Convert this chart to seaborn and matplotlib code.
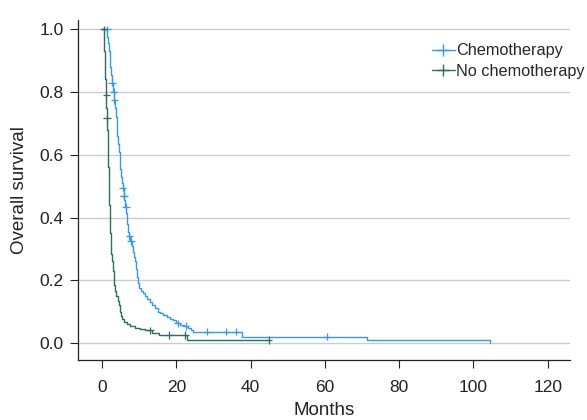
import numpy as np
import pandas as pd
import matplotlib
matplotlib.use("Agg")
import matplotlib.pyplot as plt
from matplotlib.lines import Line2D
import seaborn as sns

# Kaplan-Meier steps (months, survival)
chemo_time = [0, 1.4, 1.6, 1.8, 2.0, 2.2, 2.4, 2.55, 2.8, 3.0, 3.2, 3.3, 3.5, 3.7,
              3.9, 4.1, 4.3, 4.5, 4.7, 4.9, 5.1, 5.3, 5.5, 5.75, 5.95, 6.2, 6.5,
              6.8, 7.0, 7.3, 7.6, 7.9, 8.2, 8.5, 8.8, 9.1, 9.4, 9.7, 10.0, 10.4,
              11.0, 11.6, 12.2, 12.9, 13.5, 14.2, 15.0, 15.6, 16.5, 17.4, 18.2,
              19.0, 20.0, 21.0, 22.0, 23.0, 23.8, 24.5, 37.6, 71.3, 104.5]
chemo_surv = [1.0, 0.975, 0.955, 0.93, 0.905, 0.88, 0.855, 0.83, 0.81, 0.80, 0.785,
              0.775, 0.75, 0.72, 0.69, 0.66, 0.635, 0.61, 0.58, 0.555, 0.53, 0.51,
              0.495, 0.47, 0.455, 0.435, 0.415, 0.38, 0.355, 0.34, 0.325, 0.31,
              0.29, 0.275, 0.26, 0.235, 0.21, 0.19, 0.175, 0.165, 0.158, 0.15,
              0.14, 0.13, 0.12, 0.11, 0.10, 0.095, 0.089, 0.084, 0.078, 0.072,
              0.063, 0.058, 0.054, 0.048, 0.042, 0.036, 0.02, 0.01, 0.0]
chemo_censor = [1.26, 2.6, 3.05, 3.3, 5.5, 5.8, 5.9, 6.4, 7.3, 7.8, 20.3, 22.5,
                28.3, 33.4, 36.1, 60.5]

nochemo_time = [0, 0.4, 0.55, 0.7, 0.85, 1.0, 1.15, 1.25, 1.35, 1.45, 1.55, 1.65,
                1.75, 1.85, 1.95, 2.05, 2.2, 2.35, 2.5, 2.65, 2.85, 3.05, 3.3,
                3.55, 3.85, 4.2, 4.5, 4.8, 5.1, 5.4, 5.8, 6.6, 7.5, 8.9, 10.2,
                11.5, 13.5, 15.2, 22.8, 44.8]
nochemo_surv = [1.0, 0.97, 0.93, 0.89, 0.84, 0.79, 0.75, 0.717, 0.68, 0.64, 0.60,
                0.56, 0.52, 0.48, 0.44, 0.40, 0.35, 0.32, 0.285, 0.26, 0.23,
                0.205, 0.185, 0.165, 0.15, 0.135, 0.12, 0.10, 0.085, 0.075, 0.068,
                0.06, 0.053, 0.047, 0.044, 0.04, 0.033, 0.025, 0.0096, 0.0096]
nochemo_censor = [0.35, 1.08, 1.26, 12.9, 17.9, 22.4, 44.8]

groups = ["Chemotherapy", "No chemotherapy"]
colors = {"Chemotherapy": "#3399ee", "No chemotherapy": "#2b6f63"}


def step_value(times, surv, t):
    idx = np.searchsorted(times, t, side="right") - 1
    return np.asarray(surv)[idx]


curves = pd.concat([
    pd.DataFrame({"time": chemo_time, "surv": chemo_surv, "group": groups[0]}),
    pd.DataFrame({"time": nochemo_time, "surv": nochemo_surv, "group": groups[1]}),
])
marks = pd.concat([
    pd.DataFrame({"time": chemo_censor,
                  "surv": step_value(chemo_time, chemo_surv, chemo_censor),
                  "group": groups[0]}),
    pd.DataFrame({"time": nochemo_censor,
                  "surv": step_value(nochemo_time, nochemo_surv, nochemo_censor),
                  "group": groups[1]}),
])

sns.set_style("ticks")
plt.rcParams["font.family"] = ["Liberation Sans", "DejaVu Sans"]

fig = plt.figure(figsize=(5.87, 4.2), dpi=100)
ax = fig.add_axes([0.133, 0.143, 0.838, 0.809])

ax.yaxis.grid(True, color="#cccccc", linewidth=1)
ax.set_axisbelow(True)

sns.lineplot(data=curves, x="time", y="surv", hue="group", palette=colors,
             estimator=None, sort=False, drawstyle="steps-post", linewidth=1.0,
             legend=False, ax=ax)
sns.scatterplot(data=marks, x="time", y="surv", hue="group", palette=colors,
                marker="+", s=28, linewidth=0.9, legend=False, ax=ax, zorder=3)

ax.set_xlim(-6.5, 126)
ax.set_ylim(-0.054, 1.029)
ax.set_xticks([0, 20, 40, 60, 80, 100, 120])
ax.set_yticks([0.0, 0.2, 0.4, 0.6, 0.8, 1.0])
ax.set_yticklabels(["0.0", "0.2", "0.4", "0.6", "0.8", "1.0"])
ax.tick_params(labelsize=12.5, colors="#222222", length=5.5, width=0.8)
ax.tick_params(axis="x", pad=9)
ax.tick_params(axis="y", pad=5)
ax.set_xlabel("Months", fontsize=13.5, color="#222222", labelpad=5)
ax.set_ylabel("Overall survival", fontsize=13.5, color="#222222", labelpad=8)
sns.despine(ax=ax)
for side in ["left", "bottom"]:
    ax.spines[side].set_color("#222222")
    ax.spines[side].set_linewidth(0.9)

handles = [Line2D([], [], color=colors[g], marker="+", markersize=8,
                  linewidth=1.0) for g in groups]
fig.legend(handles, groups, loc="upper left", bbox_to_anchor=(0.736, 0.897),
           frameon=False, fontsize=11.7, handlelength=1.4, handletextpad=0.1,
           borderpad=0, labelspacing=0.35, borderaxespad=0)

fig.savefig("out.png", dpi=100)
